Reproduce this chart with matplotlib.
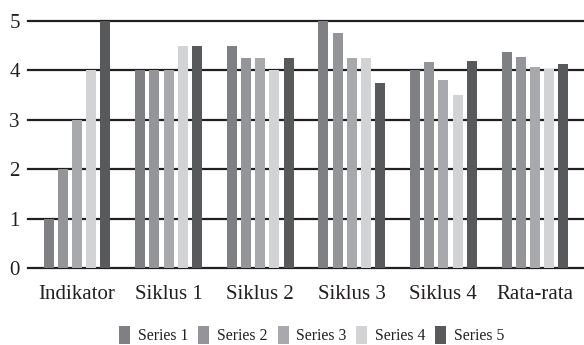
import matplotlib.pyplot as plt
import numpy as np

# Categories and the five series
categories = ['Indikator', 'Siklus 1', 'Siklus 2', 'Siklus 3', 'Siklus 4', 'Rata-rata']
series_names = ['Series 1', 'Series 2', 'Series 3', 'Series 4', 'Series 5']
series_1 = [1, 4, 4.5, 5, 4, 4.37]
series_2 = [2, 4, 4.25, 4.75, 4.17, 4.27]
series_3 = [3, 4, 4.25, 4.25, 3.8, 4.07]
series_4 = [4, 4.5, 4, 4.25, 3.5, 4.02]
series_5 = [5, 4.5, 4.25, 3.75, 4.2, 4.13]
yticks = [0, 1, 2, 3, 4, 5]

colors = ['#7f8083', '#939598', '#a7a9ac', '#d1d3d4', '#58595b']

plt.rcParams['font.family'] = ['Liberation Serif', 'DejaVu Serif']

fig = plt.figure(figsize=(5.84, 3.45), dpi=100)
ax = fig.add_axes([0.048, 0.2232, 0.952, 0.723])

x = np.arange(len(categories))
width = 0.109
step = 0.155
all_series = [series_1, series_2, series_3, series_4, series_5]
for k, (vals, name, c) in enumerate(zip(all_series, series_names, colors)):
    ax.bar(x + (k - 2) * step, vals, width=width, color=c, label=name, zorder=3)

# Horizontal gridlines
for v in yticks:
    ax.axhline(v, color='#231f20', linewidth=1.6, zorder=2, clip_on=False)

ax.set_xlim(-0.535, 5.535)
ax.set_ylim(0, 5.05)
ax.set_yticks(yticks)
ax.set_xticks(x)
ax.set_xticklabels(categories)
ax.tick_params(axis='both', length=0, labelsize=15, colors='#231f20')
ax.tick_params(axis='y', pad=6)
ax.tick_params(axis='x', pad=12)
for s in ax.spines.values():
    s.set_visible(False)

fig.legend(loc='center', bbox_to_anchor=(312 / 584, 1 - 335 / 345), ncol=5,
           frameon=False, fontsize=11.3, handlelength=0.7, handleheight=1.4,
           handletextpad=0.5, columnspacing=0.62, labelcolor='#231f20')

plt.savefig('out.png', dpi=100)
